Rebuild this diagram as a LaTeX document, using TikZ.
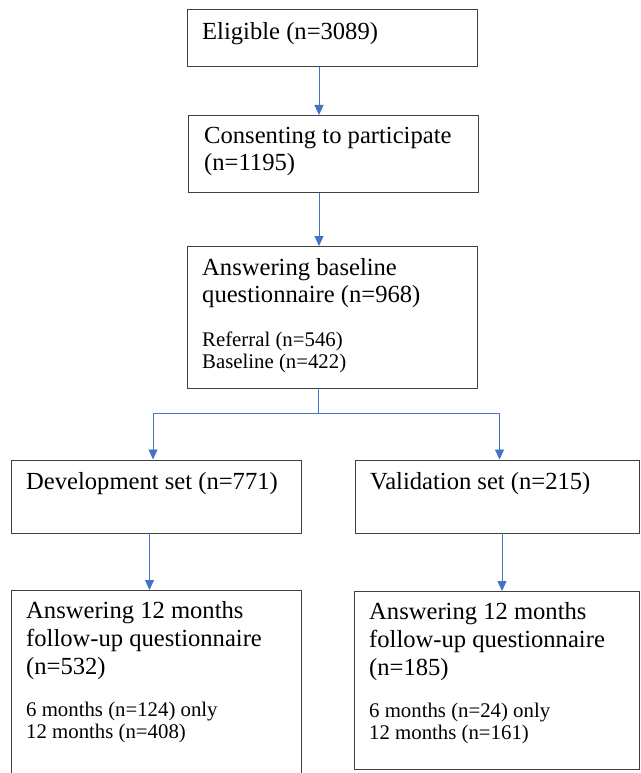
\documentclass[tikz,border=0pt]{standalone}
\usepackage{fontspec}
\setmainfont{Liberation Serif}
\usetikzlibrary{arrows.meta}
\definecolor{conblue}{HTML}{4472C4}
\begin{document}
\begin{tikzpicture}[x=1pt,y=-1pt,
  boxnode/.style={draw=black!75, line width=0.8pt, rectangle, inner sep=0pt, anchor=north west},
  big/.style={anchor=base west, inner sep=0pt, font=\fontsize{24.6}{28}\selectfont},
  small/.style={anchor=base west, inner sep=0pt, font=\fontsize{20.8}{23}\selectfont},
  conn/.style={draw=conblue, line width=0.9pt},
  arr/.style={conn, -{Triangle[length=10pt,width=9pt]}}]
\useasboundingbox (0,0) rectangle (640,773);
\clip (0,0) rectangle (640,773);
% boxes
\node[boxnode, minimum width=290pt, minimum height=57pt] (b1) at (186.5,9.5) {};
\node[boxnode, minimum width=290pt, minimum height=77pt] (b2) at (188,115) {};
\node[boxnode, minimum width=290pt, minimum height=141.5pt] (b3) at (187,246) {};
\node[boxnode, minimum width=290pt, minimum height=73pt] (b4) at (11,459.5) {};
\node[boxnode, minimum width=284pt, minimum height=73pt] (b5) at (355,459.5) {};
\node[boxnode, minimum width=290pt, minimum height=200pt] (b6) at (10.5,590) {};
\node[boxnode, minimum width=285pt, minimum height=177.5pt] (b7) at (354,591) {};
% texts
\node[big] (t1) at (202,39.5) {Eligible (n=3089)};
\node[big] (t2a) at (204,143) {Consenting to participate};
\node[big] (t2b) at (204,170.5) {(n=1195)};
\node[big] (t3a) at (202,275) {Answering baseline};
\node[big] (t3b) at (202,302.5) {questionnaire (n=968)};
\node[small] (t3c) at (202,346) {Referral (n=546)};
\node[small] (t3d) at (202,368) {Baseline (n=422)};
\node[big] (t4) at (26,489) {Development set (n=771)};
\node[big] (t5) at (370,489) {Validation set (n=215)};
\node[big] (t6a) at (26,618.5) {Answering 12 months};
\node[big] (t6b) at (26,646.5) {follow-up questionnaire};
\node[big] (t6c) at (26,674.5) {(n=532)};
\node[small] (t6d) at (26,716) {6 months (n=124) only};
\node[small] (t6e) at (26,738) {12 months (n=408)};
\node[big] (t7a) at (369,619) {Answering 12 months};
\node[big] (t7b) at (369,647) {follow-up questionnaire};
\node[big] (t7c) at (369,675.5) {(n=185)};
\node[small] (t7d) at (369,717) {6 months (n=24) only};
\node[small] (t7e) at (369,739) {12 months (n=161)};
% connector x positions
\coordinate (xa) at (319,0);
\coordinate (xb) at (318,0);
\coordinate (xdl) at (153,0);
\coordinate (xdr) at (499.5,0);
\coordinate (xel) at (149.5,0);
\coordinate (xer) at (502,0);
\coordinate (jy) at (0,413);
% connectors
\draw[arr] (b1.south -| xa) -- (b2.north -| xa);
\draw[arr] (b2.south -| xa) -- (b3.north -| xa);
\draw[conn] (b3.south -| xb) -- (jy -| xb);
\draw[arr] (jy -| xb) -- (jy -| xdl) -- (b4.north -| xdl);
\draw[arr] (jy -| xb) -- (jy -| xdr) -- (b5.north -| xdr);
\draw[arr] (b4.south -| xel) -- (b6.north -| xel);
\draw[arr] (b5.south -| xer) -- (b7.north -| xer);
\end{tikzpicture}
\end{document}
